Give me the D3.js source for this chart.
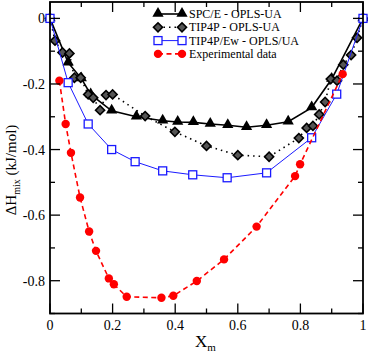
<!DOCTYPE html>
<html>
<head>
<meta charset="utf-8">
<script src="https://cdn.jsdelivr.net/npm/d3@7"></script>
<style>
  body { margin: 0; background: #fff; }
  text { font-family: "Liberation Serif", "DejaVu Serif", serif; }
</style>
</head>
<body>
<div id="chart"></div>
<script>
// SPC/E - OPLS-UA
var spceX = [0, 0.058, 0.1, 0.13, 0.197, 0.276, 0.36, 0.408, 0.458, 0.512, 0.568, 0.628, 0.692, 0.761, 0.836, 0.9, 1.0];
var spceY = [0, -0.135, -0.183, -0.232, -0.282, -0.30, -0.312, -0.316, -0.317, -0.322, -0.326, -0.332, -0.326, -0.315, -0.272, -0.185, 0];

// TIP4P - OPLS-UA
var tip4pX = [0, 0.016, 0.04, 0.062, 0.078, 0.098, 0.122, 0.138, 0.16, 0.179, 0.2, 0.304, 0.399, 0.5, 0.6, 0.7, 0.795, 0.82, 0.84, 0.86, 0.879, 0.897, 0.917, 0.937, 0.962, 0.981, 1.0];
var tip4pY = [0, -0.068, -0.104, -0.107, -0.181, -0.181, -0.232, -0.242, -0.28, -0.234, -0.232, -0.298, -0.346, -0.389, -0.417, -0.422, -0.365, -0.334, -0.328, -0.293, -0.255, -0.185, -0.19, -0.141, -0.112, -0.059, 0];

// TIP4P/Ew - OPLS/UA
var ewX = [0, 0.058, 0.122, 0.197, 0.272, 0.36, 0.456, 0.566, 0.692, 0.836, 0.916, 1.0];
var ewY = [0, -0.196, -0.322, -0.4, -0.437, -0.465, -0.477, -0.486, -0.471, -0.364, -0.231, 0];

// Experimental data
var expX = [0.03, 0.05, 0.067, 0.096, 0.125, 0.147, 0.188, 0.204, 0.245, 0.356, 0.394, 0.469, 0.556, 0.66, 0.783, 0.799, 0.935];
var expY = [-0.19, -0.322, -0.41, -0.546, -0.65, -0.709, -0.793, -0.811, -0.849, -0.852, -0.846, -0.801, -0.735, -0.635, -0.481, -0.445, -0.17];

var xTicks = [0, 0.2, 0.4, 0.6, 0.8, 1];
var xTickLabels = ["0", "0.2", "0.4", "0.6", "0.8", "1"];
var yTicks = [0, -0.2, -0.4, -0.6, -0.8];
var yTickLabels = ["0", "-0.2", "-0.4", "-0.6", "-0.8"];
var legendLabels = ["SPC/E - OPLS-UA", "TIP4P - OPLS-UA", "TIP4P/Ew - OPLS/UA", "Experimental data"];

var width = 368, height = 355;
var pLeft = 50, pRight = 363, pTop = 2, pBottom = 313.5;

var svg = d3.select('#chart').append('svg')
  .attr('width', width)
  .attr('height', height);

var x = d3.scaleLinear().domain([0, 1]).range([pLeft, pRight]);
var y = d3.scaleLinear().domain([-0.9, 0.05]).range([pBottom, pTop]);

function pts(xs, ys) {
  return xs.map(function (v, i) { return [v, ys[i]]; });
}

var line = d3.line()
  .x(function (d) { return x(d[0]); })
  .y(function (d) { return y(d[1]); });

var series = [
  { name: legendLabels[0], data: pts(spceX, spceY), color: '#000', width: 1.6, dash: null, sym: 'tri' },
  { name: legendLabels[1], data: pts(tip4pX, tip4pY), color: '#000', width: 1.6, dash: '1.5,4', sym: 'dia' },
  { name: legendLabels[2], data: pts(ewX, ewY), color: '#1a1aff', width: 1, dash: null, sym: 'sq' },
  { name: legendLabels[3], data: pts(expX, expY), color: '#ff0000', width: 1.6, dash: '5,3.5', sym: 'circ' }
];

function drawSym(g, sym, cx, cy) {
  if (sym === 'tri') {
    g.append('path')
      .attr('d', d3.symbol(d3.symbolTriangle, 55)())
      .attr('transform', 'translate(' + cx + ',' + (cy - 0.5) + ')')
      .attr('fill', '#000');
  } else if (sym === 'dia') {
    g.append('rect')
      .attr('x', -3.2).attr('y', -3.2).attr('width', 6.4).attr('height', 6.4)
      .attr('transform', 'translate(' + cx + ',' + cy + ') rotate(45)')
      .attr('fill', '#555').attr('stroke', '#000').attr('stroke-width', 1.6);
  } else if (sym === 'sq') {
    g.append('rect')
      .attr('x', cx - 4).attr('y', cy - 4).attr('width', 8).attr('height', 8)
      .attr('fill', '#fff').attr('stroke', '#1a1aff').attr('stroke-width', 1.3);
  } else {
    g.append('circle')
      .attr('cx', cx).attr('cy', cy).attr('r', 4.2)
      .attr('fill', '#ff0000');
  }
}

// series lines and markers
series.forEach(function (s) {
  svg.append('path')
    .attr('d', line(s.data))
    .attr('fill', 'none')
    .attr('stroke', s.color)
    .attr('stroke-width', s.width)
    .attr('stroke-dasharray', s.dash);
  var g = svg.append('g');
  s.data.forEach(function (d) { drawSym(g, s.sym, x(d[0]), y(d[1])); });
});

// frame with inward ticks on all sides
var axisG = svg.append('g');
var xMinor = [0.1, 0.3, 0.5, 0.7, 0.9];
var yMinor = [-0.1, -0.3, -0.5, -0.7, -0.9];

xTicks.concat(xMinor).forEach(function (t, i) {
  var len = i < xTicks.length ? 10 : 5;
  axisG.append('line').attr('x1', x(t)).attr('x2', x(t)).attr('y1', pBottom).attr('y2', pBottom - len);
  axisG.append('line').attr('x1', x(t)).attr('x2', x(t)).attr('y1', pTop).attr('y2', pTop + len);
});
yTicks.concat(yMinor).forEach(function (t, i) {
  var len = i < yTicks.length ? 10 : 5;
  axisG.append('line').attr('y1', y(t)).attr('y2', y(t)).attr('x1', pLeft).attr('x2', pLeft + len);
  axisG.append('line').attr('y1', y(t)).attr('y2', y(t)).attr('x1', pRight).attr('x2', pRight - len);
});
axisG.selectAll('line').attr('stroke', '#000').attr('stroke-width', 1.3);

axisG.append('rect')
  .attr('x', pLeft).attr('y', pTop)
  .attr('width', pRight - pLeft).attr('height', pBottom - pTop)
  .attr('fill', 'none').attr('stroke', '#000').attr('stroke-width', 1.8);

// tick labels
xTicks.forEach(function (t, i) {
  svg.append('text')
    .attr('x', x(t)).attr('y', pBottom + 16)
    .attr('text-anchor', 'middle')
    .attr('font-size', 14)
    .text(xTickLabels[i]);
});
yTicks.forEach(function (t, i) {
  svg.append('text')
    .attr('x', pLeft - 5).attr('y', y(t) + 5)
    .attr('text-anchor', 'end')
    .attr('font-size', 14)
    .text(yTickLabels[i]);
});

// axis titles
var xt = svg.append('text')
  .attr('x', 195).attr('y', 347)
  .attr('font-size', 17);
xt.append('tspan').text('X');
xt.append('tspan').attr('font-size', 11).attr('dy', 4).text('m');

var yt = svg.append('text')
  .attr('transform', 'translate(16,170) rotate(-90)')
  .attr('text-anchor', 'middle')
  .attr('font-size', 15);
yt.append('tspan').text('ΔH');
yt.append('tspan').attr('font-size', 10).attr('dy', 4).text('mix');
yt.append('tspan').attr('dy', -4).text(' (kJ/mol)');

// legend
var lg = svg.append('g');
series.forEach(function (s, i) {
  var ly = 14 + i * 13.3;
  lg.append('line')
    .attr('x1', 158).attr('x2', 182).attr('y1', ly).attr('y2', ly)
    .attr('stroke', s.color).attr('stroke-width', s.width)
    .attr('stroke-dasharray', s.dash);
  drawSym(lg, s.sym, 158, ly);
  drawSym(lg, s.sym, 182, ly);
  lg.append('text')
    .attr('x', 189).attr('y', ly + 4)
    .attr('font-size', 12)
    .text(s.name);
});
</script>
</body>
</html>
